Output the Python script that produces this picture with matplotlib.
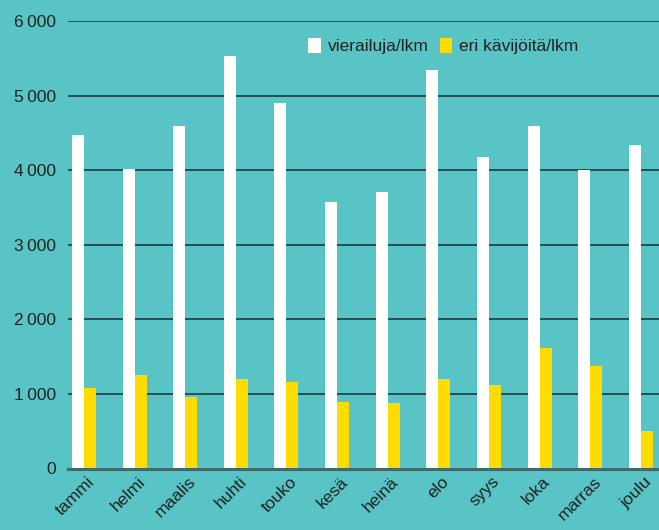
import matplotlib
matplotlib.use("Agg")
import matplotlib.pyplot as plt
import numpy as np
from matplotlib.ticker import FuncFormatter

months = ["tammi", "helmi", "maalis", "huhti", "touko", "kesä", "heinä",
          "elo", "syys", "loka", "marras", "joulu"]
visits = [4480, 4020, 4600, 5530, 4900, 3570, 3710, 5350, 4180, 4600, 4010, 4340]
visitors = [1080, 1260, 965, 1200, 1160, 890, 880, 1200, 1120, 1620, 1380, 505]
yticks = [0, 1000, 2000, 3000, 4000, 5000, 6000]

BG = "#58C4C5"
YELLOW = "#FFDC00"
TXT = "#222222"

plt.rcParams['font.family'] = ['Liberation Sans', 'DejaVu Sans']

fig = plt.figure(figsize=(6.59, 5.30), dpi=100)
fig.patch.set_facecolor(BG)
ax = fig.add_axes([67.5/659, 61.5/530, 591.5/659, 447.2/530])
ax.set_facecolor(BG)

x = np.arange(len(months))
w = 0.237
ax.bar(x - w/2, visits, width=w, color="white", label="vierailuja/lkm", zorder=3)
ax.bar(x + w/2, visitors, width=w, color=YELLOW, label="eri kävijöitä/lkm", zorder=3)

ax.set_ylim(0, 6000)
ax.set_xlim(-0.326, 11.36)
ax.set_yticks(yticks)
ax.yaxis.set_major_formatter(FuncFormatter(lambda v, p: f"{int(v):,}".replace(",", "\u2009")))
ax.grid(axis="y", color="#1c2e2e", linewidth=1.1, zorder=1)
ax.set_axisbelow(True)
for s in ["top", "right", "left"]:
    ax.spines[s].set_visible(False)
ax.spines["bottom"].set_color("#3d6b6c")
ax.spines["bottom"].set_linewidth(2.2)
ax.spines["bottom"].set_zorder(4)
ax.tick_params(axis="y", length=0, pad=8, labelsize=12.5, colors=TXT)
ax.tick_params(axis="x", length=0, pad=4, labelsize=12.5, colors=TXT)
ax.set_xticks(x + 0.06)
ax.set_xticklabels(months, rotation=45, ha="right", rotation_mode="anchor")

leg = ax.legend(loc="upper left", bbox_to_anchor=(0.381, 0.997), ncol=2, frameon=False,
                fontsize=12.5, handlelength=0.7, handleheight=0.9, handletextpad=0.4,
                columnspacing=0.65, labelcolor=TXT)

fig.savefig("out.png", dpi=100, facecolor=BG)
